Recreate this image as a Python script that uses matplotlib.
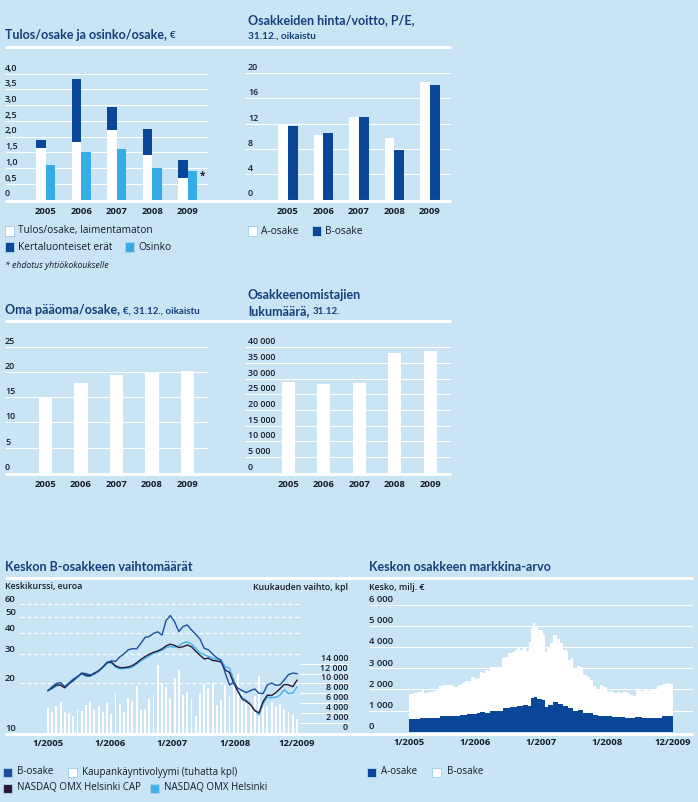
import numpy as np
import matplotlib
matplotlib.use('Agg')
import matplotlib.pyplot as plt
from matplotlib.patches import Rectangle
from matplotlib.lines import Line2D

# ---------------- data ----------------
years = ['2005', '2006', '2007', '2008', '2009']
eps_diluted = [1.63, 1.82, 2.20, 1.41, 0.68]
one_off_items = [0.25, 2.00, 0.73, 0.83, 0.57]
dividend = [1.10, 1.50, 1.60, 1.00, 0.90]

pe_a = [11.8, 10.2, 13.0, 9.7, 18.6]
pe_b = [11.6, 10.5, 13.0, 7.8, 18.1]

equity_per_share = [15.0, 17.8, 19.4, 19.8, 20.2]
shareholders = [29000, 28200, 28600, 38100, 38700]

# monthly, 1/2005 .. 12/2009
b_share = [18.0, 19.0, 19.9, 20.1, 19.0, 19.9, 21.0, 21.8, 23.0, 22.8, 22.4, 22.7,
           23.8, 25.0, 26.5, 27.3, 27.0, 28.8, 30.0, 31.8, 32.3, 32.2, 34.8, 37.8,
           38.3, 40.0, 40.9, 39.0, 48.0, 51.3, 47.0, 41.0, 44.0, 45.0, 42.0, 39.5,
           37.0, 32.5, 31.8, 30.0, 28.5, 27.5, 23.0, 19.5, 20.2, 18.6, 18.0, 17.5,
           18.0, 18.4, 17.3, 17.3, 19.5, 20.0, 19.4, 19.5, 20.9, 22.5, 23.0, 22.8]
omx_cap = [18.0, 18.7, 19.5, 19.4, 18.7, 19.8, 20.7, 21.8, 22.9, 22.3, 22.1, 23.0,
           23.7, 25.0, 26.7, 26.8, 25.4, 24.8, 24.8, 25.0, 25.5, 26.5, 27.8, 28.9,
           29.9, 30.7, 31.3, 32.2, 33.6, 34.4, 33.8, 32.8, 33.2, 34.0, 33.2, 31.2,
           29.5, 28.0, 28.3, 27.4, 27.2, 26.8, 24.0, 23.2, 20.0, 17.8, 16.0, 15.5,
           14.8, 13.6, 13.2, 15.5, 16.9, 16.8, 17.5, 18.5, 19.6, 19.5, 19.0, 20.8]
omx_helsinki = [18.0, 18.5, 19.2, 19.4, 19.0, 20.2, 21.2, 22.0, 22.8, 21.9, 22.0, 22.8,
                23.5, 24.8, 26.4, 26.5, 25.0, 24.4, 24.5, 24.6, 25.0, 26.0, 27.2, 28.2,
                29.2, 30.2, 30.8, 31.6, 32.8, 33.3, 33.0, 33.6, 35.0, 35.5, 34.5, 32.5,
                30.5, 29.7, 29.0, 28.3, 27.8, 27.5, 25.1, 24.6, 21.0, 17.8, 16.4, 15.7,
                14.8, 13.7, 12.8, 15.0, 16.4, 16.3, 16.4, 16.9, 18.2, 17.3, 17.4, 18.9]
volume_k = [5.1, 4.3, 5.35, 6.2, 4.3, 3.9, 3.3, 4.7, 4.5, 5.6, 6.2, 4.7,
            5.35, 4.3, 6.0, 3.7, 8.0, 5.8, 4.3, 7.0, 6.4, 9.5, 4.7, 4.9,
            6.8, 7.6, 13.8, 10.0, 9.3, 7.0, 11.1, 12.8, 7.6, 8.2, 6.8, 3.3,
            8.0, 9.9, 9.1, 10.0, 5.6, 6.6, 9.6, 7.4, 9.5, 11.9, 8.2, 6.0,
            5.8, 7.4, 11.5, 5.4, 5.5, 6.2, 5.5, 5.9, 4.8, 4.3, 3.5, 2.8]
price_ticks = [10, 20, 30, 40, 50, 60]
volume_ticks = [0, 2000, 4000, 6000, 8000, 10000, 12000, 14000]
date_labels = ['1/2005', '1/2006', '1/2007', '1/2008', '12/2009']

# market value, milj. € (time in months from 1/2005)
mcap_total_t = [0, 1.0, 2.1, 2.9, 3.3, 4.4, 5.5, 6.3, 6.9, 7.4, 9.3, 10.1, 11.2, 12.0, 12.7,
                13.5, 14.2, 15.0, 15.75, 16.1, 16.6, 17.3, 18.0, 18.4, 19.5, 20.7, 21.1,
                21.8, 22.6, 23.3, 24.1, 24.6, 25.2, 26.0, 26.7, 27.3, 27.65, 28.1, 28.6,
                29.4, 30.2, 30.5, 30.9, 31.3, 32.0, 32.8, 33.6, 34.3, 35.1, 35.8, 36.2,
                36.8, 37.3, 38.1, 38.9, 39.6, 40.4, 41.1, 41.9, 42.6, 43.4, 44.1, 44.9,
                45.7, 46.4, 47.2, 47.9, 48.7, 49.5, 50.2, 51.0, 51.7, 52.5, 53.3, 54.0,
                54.8, 55.5, 56.3, 57.1, 57.8, 58.6, 59.3, 60.0]
mcap_total = [1780, 1840, 1890, 1970, 1840, 1890, 1940, 2015, 2160, 2200, 2200, 2125, 2200,
              2315, 2410, 2410, 2570, 2470, 2520, 2835, 2750, 2915, 2850, 3070, 3040, 3070,
              3465, 3540, 3700, 3780, 3860, 3985, 3860, 4015, 3830, 4250, 4880, 5120, 4930,
              4800, 4770, 4570, 3780, 4015, 4170, 4570, 4360, 4170, 3860, 3780, 3385, 3465,
              2990, 3100, 3070, 2680, 2570, 2440, 2160, 2000, 2200, 2095, 1890, 1940, 1840,
              1890, 1810, 1890, 1810, 1730, 1685, 2015, 1940, 1970, 1940, 1970, 2015, 2160,
              2200, 2235, 2280, 2235, 2200]
mcap_a_t = [0, 2.5, 5.5, 7.0, 9.3, 11.6, 13.1, 15.4, 16.1, 17.3, 18.4, 20.7, 21.4, 22.95,
            24.5, 26.0, 27.1, 27.65, 28.3, 29.0, 29.8, 30.2, 30.9, 31.7, 32.8, 33.9, 35.1,
            36.2, 37.35, 38.5, 39.6, 40.8, 41.9, 43.0, 44.5, 46.1, 47.6, 49.1, 50.2, 51.4,
            52.9, 54.4, 55.9, 57.4, 59.7, 60.0]
mcap_a = [600, 630, 630, 740, 740, 790, 820, 870, 910, 890, 975, 975, 1100, 1180, 1230,
          1260, 1210, 1575, 1620, 1560, 1540, 1500, 1180, 1260, 1420, 1290, 1210, 1100,
          990, 1020, 870, 870, 790, 755, 740, 710, 680, 660, 630, 710, 660, 660, 660, 740,
          740, 740]
mcap_ticks = [0, 1000, 2000, 3000, 4000, 5000, 6000]

# ---------------- style ----------------
W, H = 698, 802
BG = '#C8E4F5'
NAVY = '#0B4799'
LBLUE = '#36ACE6'
BLINE = '#1E4E9C'
PURPLE = '#2B1838'
OMXC = '#3FB2EA'
TXT = '#151C2A'
TITLE = '#163E7A'
BODY = ['Open Sans', 'DejaVu Sans']
HEAD = ['Lato', 'DejaVu Sans']
plt.rcParams['font.family'] = BODY

fig = plt.figure(figsize=(W / 100, H / 100), dpi=100)
fig.patch.set_facecolor(BG)


def add_ax(x0, x1, y0, y1):
    ax = fig.add_axes([x0 / W, 1 - y1 / H, (x1 - x0) / W, (y1 - y0) / H])
    ax.set_axis_off()
    ax.patch.set_alpha(0)
    return ax


def hline_px(x0, x1, y, lw=2.2):
    fig.add_artist(Line2D([x0 / W, x1 / W], [1 - y / H] * 2, transform=fig.transFigure,
                          color='white', lw=lw, solid_capstyle='butt', zorder=5))


def ftext(x, y, s, **kw):
    kw.setdefault('va', 'center')
    kw.setdefault('ha', 'left')
    return fig.text(x / W, 1 - y / H, s, **kw)


def square(x, y, color, size=9):
    fig.add_artist(Rectangle((x / W, 1 - (y + size / 2) / H), size / W, size / H,
                             transform=fig.transFigure, facecolor=color,
                             edgecolor='#A9D0EA', lw=0.7))


renderer = fig.canvas.get_renderer()


def head(x, y, s, size=9):
    return ftext(x, y, s, fontsize=size, fontweight='bold', color=TITLE, family=HEAD)


def title2(x, y, big, small, bsize=9, ssize=7):
    t = head(x, y, big, bsize)
    bb = t.get_window_extent(renderer)
    fig.text((bb.x1 + 3) / W, 1 - (y + 0.8) / H, small, fontsize=ssize, fontweight='bold',
             color=TITLE, va='center', ha='left', family=HEAD)


def ylabels(ax, vals, labels, offset=5.5, size=6.4, ha='left', xfrac=0.0):
    for v, l in zip(vals, labels):
        ax.annotate(l, xy=(xfrac, v), xycoords=('axes fraction', 'data'), xytext=(0, offset),
                    textcoords='offset pixels', va='center', ha=ha, fontsize=size,
                    color=TXT, fontweight='semibold', annotation_clip=False)


def xlabels(ax, pos, labels, yval, offset, size=6.8):
    for p, l in zip(pos, labels):
        ax.annotate(l, xy=(p, yval), xytext=(0, offset), textcoords='offset pixels',
                    ha='center', va='center', fontsize=size, fontweight='bold', color=TXT,
                    annotation_clip=False)


idx = np.arange(len(years))
LEG = 7.0

# ---------- Panel 1 : EPS & dividend ----------
zero1, ppu1, c1, sp1 = 199.5, 31.5, 46.0, 35.5
ax1 = add_ax(5, 240, 55, zero1)
ax1.set_ylim(0, (zero1 - 55) / ppu1)
ax1.set_xlim((5 - c1) / sp1, (240 - c1) / sp1)
g1 = [0.5, 1.0, 1.5, 2.0, 2.5, 3.0, 3.5, 4.0]
ax1.hlines(g1, (5 - c1) / sp1, (208 - c1) / sp1, color='white', lw=0.8, zorder=1)
ax1.bar(idx, eps_diluted, width=-0.28, align='edge', color='white', zorder=2)
ax1.bar(idx, one_off_items, bottom=eps_diluted, width=-0.28, align='edge', color=NAVY, zorder=2)
ax1.bar(idx, dividend, width=0.26, align='edge', color=LBLUE, zorder=2)
ylabels(ax1, [0] + g1, ['0', '0,5', '1,0', '1,5', '2,0', '2,5', '3,0', '3,5', '4,0'])
xlabels(ax1, idx, years, 0, -12)
ax1.annotate('*', xy=(idx[-1] + 0.26, dividend[-1]), xytext=(5, -5), textcoords='offset pixels',
             ha='center', va='center', fontsize=7, color=TXT, fontweight='bold')
title2(5, 35, 'Tulos/osake ja osinko/osake,', '€', 9, 7)
square(5, 231, 'white')
ftext(18, 231, 'Tulos/osake, laimentamaton', fontsize=LEG + 0.3, color=TXT)
square(5, 247, NAVY)
ftext(18, 247, 'Kertaluonteiset erät', fontsize=LEG + 0.3, color=TXT)
square(125, 247, LBLUE)
ftext(138, 247, 'Osinko', fontsize=LEG + 0.3, color=TXT)
ftext(5, 265, '* ehdotus yhtiökokoukselle', fontsize=6.3, color=TXT, style='italic')

# ---------- Panel 2 : P/E ----------
ppu2, c2, sp2 = 6.33, 288.0, 35.4
ax2 = add_ax(240, 451, 55, zero1)
ax2.set_ylim(0, (zero1 - 55) / ppu2)
ax2.set_xlim((240 - c2) / sp2, (451 - c2) / sp2)
g2 = [4, 8, 12, 16, 20]
ax2.hlines(g2, (245 - c2) / sp2, (451 - c2) / sp2, color='white', lw=0.8, zorder=1)
ax2.bar(idx, pe_a, width=-0.27, align='edge', color='white', zorder=2)
ax2.bar(idx, pe_b, width=0.28, align='edge', color=NAVY, zorder=2)
ylabels(ax2, [0] + g2, ['0', '4', '8', '12', '16', '20'], xfrac=8 / 211)
xlabels(ax2, idx, years, 0, -12)
head(248, 20, 'Osakkeiden hinta/voitto, P/E,')
ftext(248, 36, '31.12., oikaistu', fontsize=7.2, fontweight='bold', color=TITLE, family=HEAD)
square(248, 231, 'white')
ftext(261, 231, 'A-osake', fontsize=LEG + 0.3, color=TXT)
square(312, 231, NAVY)
ftext(325, 231, 'B-osake', fontsize=LEG + 0.3, color=TXT)

hline_px(5, 451, 47)
hline_px(5, 451, 200.8)

# ---------- Panel 3 : equity per share ----------
zero3, ppu3, c3, sp3 = 473.0, 5.06, 45.5, 35.5
ax3 = add_ax(5, 240, 330, zero3)
ax3.set_ylim(0, (zero3 - 330) / ppu3)
ax3.set_xlim((5 - c3) / sp3, (240 - c3) / sp3)
g3 = [5, 10, 15, 20, 25]
ax3.hlines(g3, (5 - c3) / sp3, (208 - c3) / sp3, color='white', lw=0.8, zorder=1)
ax3.bar(idx, equity_per_share, width=0.37, color='white', zorder=2)
ylabels(ax3, [0] + g3, ['0', '5', '10', '15', '20', '25'])
xlabels(ax3, idx, years, 0, -12)
title2(5, 310, 'Oma pääoma/osake,', '€, 31.12., oikaistu', 9, 7)

# ---------- Panel 4 : shareholders ----------
ppu4, c4, sp4 = 126.0 / 40000, 288.5, 35.4
ax4 = add_ax(240, 451, 330, zero3)
ax4.set_ylim(0, (zero3 - 330) / ppu4)
ax4.set_xlim((240 - c4) / sp4, (451 - c4) / sp4)
g4 = list(range(5000, 40001, 5000))
ax4.hlines(g4, (245 - c4) / sp4, (451 - c4) / sp4, color='white', lw=0.8, zorder=1)
ax4.bar(idx, shareholders, width=0.37, color='white', zorder=2)
ylabels(ax4, [0] + g4, ['0'] + [f'{v // 1000} 000' for v in g4], xfrac=8 / 211)
xlabels(ax4, idx, years, 0, -12)
head(248, 295, 'Osakkeenomistajien')
title2(248, 311, 'lukumäärä,', '31.12.', 9, 7)

hline_px(5, 451, 321)
hline_px(5, 451, 474.3)

# ---------- Panel 5 : B share trading ----------
zero5, dec5, c5, sp5 = 732.7, 165.0, 48.0, 4.22
months = np.arange(len(b_share))
axv = add_ax(5, 350, 595, zero5)
axv.set_xlim((5 - c5) / sp5, (350 - c5) / sp5)
ppk = 4.93
axv.set_ylim(0, (zero5 - 595) / ppk * 1000)
axv.bar(months, np.array(volume_k) * 1000, width=0.45, color='white', zorder=2)
axv.hlines(volume_ticks[1:], (300 - c5) / sp5, (348 - c5) / sp5, color='white', lw=0.8)
ylabels(axv, volume_ticks, ['0'] + [f'{v // 1000} 000' for v in volume_ticks[1:]],
        offset=5.5, ha='right', xfrac=343 / 345)

ax5 = add_ax(5, 350, 595, zero5)
ax5.set_yscale('log')
ax5.set_ylim(10, 10 * 10 ** ((zero5 - 595) / dec5))
ax5.set_xlim((5 - c5) / sp5, (350 - c5) / sp5)
ax5.hlines(price_ticks[1:], (20 - c5) / sp5, (300 - c5) / sp5, color='white', lw=0.9,
           linestyles=(0, (3.2, 2.3)), zorder=1)
ax5.plot(months, omx_helsinki, color=OMXC, lw=1.0, zorder=3)
ax5.plot(months, omx_cap, color=PURPLE, lw=1.0, zorder=4)
ax5.plot(months, b_share, color=BLINE, lw=1.0, zorder=5)
ylabels(ax5, price_ticks, [str(v) for v in price_ticks], offset=4.5, size=6.8)
date_pos5 = np.linspace(0, len(months) - 1, len(date_labels))
xlabels(ax5, date_pos5, date_labels, 10, -10.5, size=6.8)
head(5, 567, 'Keskon B-osakkeen vaihtomäärät')
ftext(5, 587, 'Keskikurssi, euroa', fontsize=6.3, color=TXT, fontweight='semibold')
ftext(348, 587, 'Kuukauden vaihto, kpl', fontsize=6.3, color=TXT, ha='right',
      fontweight='semibold')
square(3, 772, BLINE)
ftext(17, 772, 'B-osake', fontsize=LEG, color=TXT)
square(68, 772, 'white')
ftext(82, 772, 'Kaupankäyntivolyymi (tuhatta kpl)', fontsize=LEG, color=TXT)
square(3, 788, PURPLE)
ftext(17, 788, 'NASDAQ OMX Helsinki CAP', fontsize=LEG, color=TXT)
square(150, 788, OMXC)
ftext(164, 788, 'NASDAQ OMX Helsinki', fontsize=LEG, color=TXT)

# ---------- Panel 6 : market value ----------
zero6, ppu6, c6, sp6 = 731.7, 21.2, 409.0, 4.4
ax6 = add_ax(350, 693, 590, zero6)
ax6.set_xlim((350 - c6) / sp6, (693 - c6) / sp6)
ax6.set_ylim(0, (zero6 - 590) / ppu6 * 1000)
ax6.hlines(mcap_ticks[1:], (369 - c6) / sp6, (693 - c6) / sp6, color='white', lw=0.8, zorder=1)
ax6.fill_between(mcap_total_t, 0, mcap_total, step='post', color='white', lw=0, zorder=2)
ax6.fill_between(mcap_a_t, 0, mcap_a, step='post', color=NAVY, lw=0, zorder=3)
ylabels(ax6, mcap_ticks, ['0'] + [f'{v // 1000} 000' for v in mcap_ticks[1:]],
        offset=5, xfrac=19 / 343, size=6.8)
date_pos6 = np.linspace(0, 60, len(date_labels))
xlabels(ax6, date_pos6, date_labels, 0, -11, size=6.8)
head(369, 567, 'Keskon osakkeen markkina-arvo')
ftext(369, 588, 'Kesko, milj. €', fontsize=6.3, color=TXT, fontweight='semibold')
square(367, 772, NAVY)
ftext(381, 772, 'A-osake', fontsize=LEG, color=TXT)
square(432, 772, 'white')
ftext(447, 772, 'B-osake', fontsize=LEG, color=TXT)

hline_px(5, 693, 578)
hline_px(5, 693, 733.5)

fig.savefig('out.png', dpi=100, facecolor=BG)
